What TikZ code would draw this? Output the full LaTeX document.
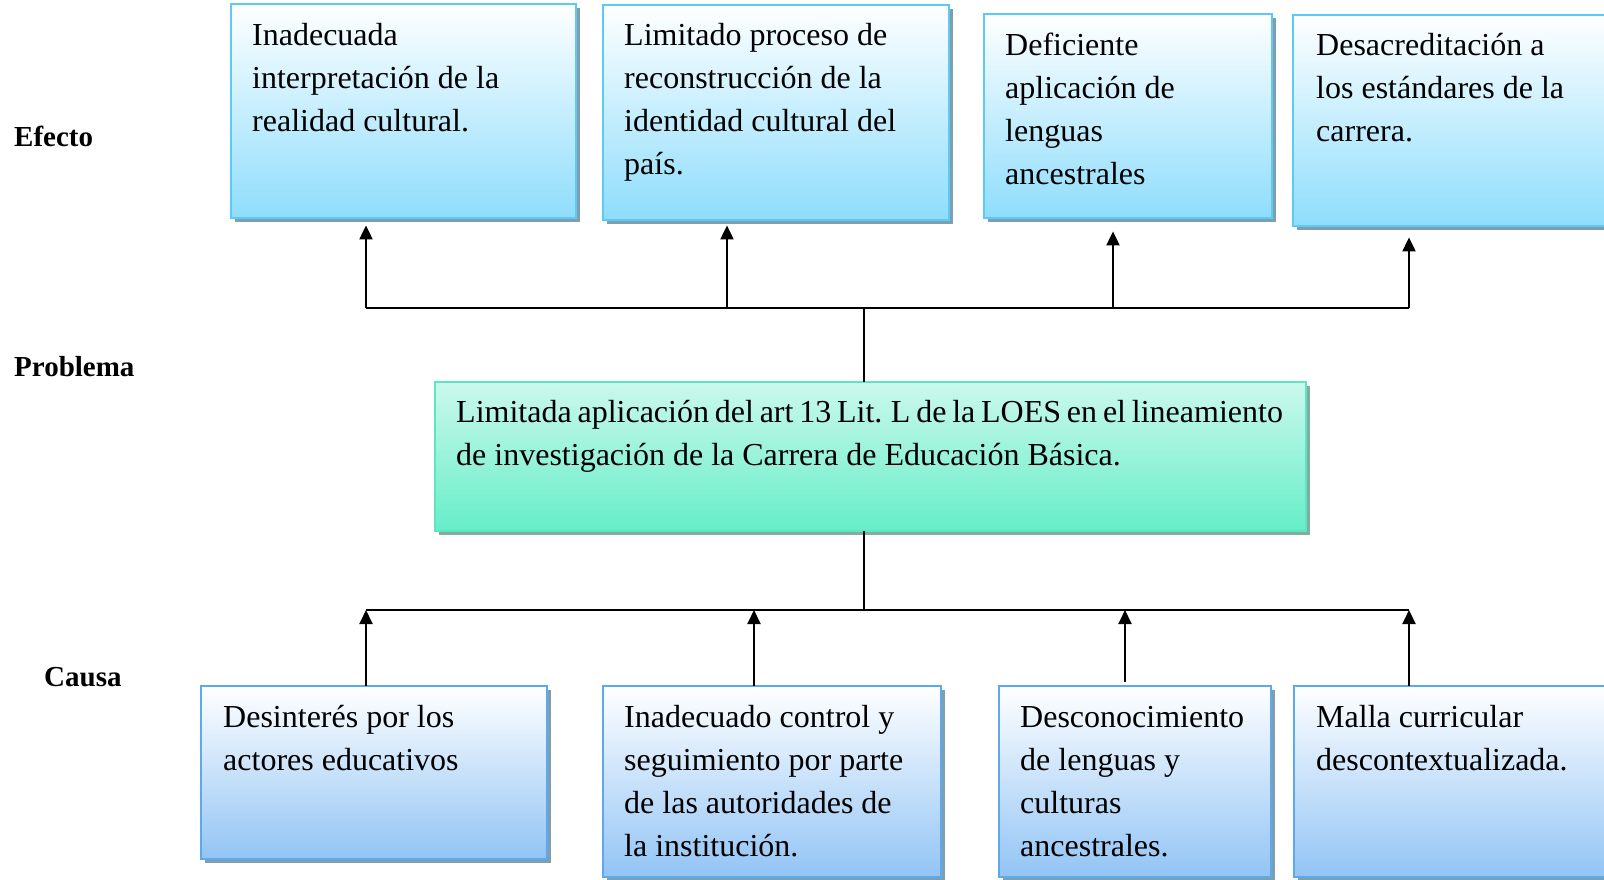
\documentclass[tikz,border=0pt]{standalone}
\usepackage{fontspec}
\setmainfont{Liberation Serif}
\usetikzlibrary{arrows.meta,shadows,calc}
\definecolor{effbot}{HTML}{8EDDFC}
\definecolor{effbord}{HTML}{5BCBF5}
\definecolor{caubot}{HTML}{92C4F5}
\definecolor{caubord}{HTML}{5DA9EE}
\definecolor{mintlt}{HTML}{CBF8EC}
\definecolor{mintdk}{HTML}{66EEC8}
\definecolor{mintbord}{HTML}{5EE6C0}
\definecolor{shblue}{HTML}{7F9FB0}
\definecolor{shmint}{HTML}{7FAEA0}
\tikzset{
  boxbase/.style={draw, line width=1.8pt, inner sep=0pt, rectangle},
  effbox/.style={boxbase, draw=effbord, top color=white, bottom color=effbot,
     general shadow={fill=shblue, shadow xshift=4pt, shadow yshift=-4pt}},
  caubox/.style={boxbase, draw=caubord, top color=white, bottom color=caubot,
     general shadow={fill=shblue, shadow xshift=4pt, shadow yshift=-4pt}},
  probbox/.style={boxbase, draw=mintbord, top color=mintlt, bottom color=mintdk,
     general shadow={fill=shmint, shadow xshift=4pt, shadow yshift=-4pt}},
  txt/.style={anchor=base west, align=left, inner sep=0pt, font=\fontsize{32}{43}\selectfont},
  lbl/.style={anchor=base west, inner sep=0pt, font=\fontsize{29}{34}\selectfont\bfseries},
  conn/.style={line width=1.6pt},
  arr/.style={line width=2pt, -{Triangle[width=13pt,length=14pt]}},
}
\begin{document}
\begin{tikzpicture}[x=1pt,y=-1pt]
\useasboundingbox (0,0) rectangle (1604,879);
\clip (0,0) rectangle (1604,879);
% effect boxes
\path[effbox] (231,4) rectangle (576,218);
\node[minimum width=345pt, minimum height=214pt, anchor=north west, inner sep=0pt] (e1) at (231,4) {};
\path[effbox] (603,5) rectangle (949,220);
\node[minimum width=346pt, minimum height=215pt, anchor=north west, inner sep=0pt] (e2) at (603,5) {};
\path[effbox] (984,14) rectangle (1272,218);
\node[minimum width=288pt, minimum height=204pt, anchor=north west, inner sep=0pt] (e3) at (984,14) {};
\path[effbox] (1293,15) rectangle (1612,226);
\node[minimum width=319pt, minimum height=211pt, anchor=north west, inner sep=0pt] (e4) at (1293,15) {};
% problem box
\path[probbox] (435,382) rectangle (1306,531);
\node[minimum width=871pt, minimum height=149pt, anchor=north west, inner sep=0pt] (p) at (435,382) {};
% cause boxes
\path[caubox] (201,686) rectangle (547,859);
\node[minimum width=346pt, minimum height=173pt, anchor=north west, inner sep=0pt] (c1) at (201,686) {};
\path[caubox] (603,686) rectangle (941,877);
\node[minimum width=338pt, minimum height=191pt, anchor=north west, inner sep=0pt] (c2) at (603,686) {};
\path[caubox] (999,686) rectangle (1271,877);
\node[minimum width=272pt, minimum height=191pt, anchor=north west, inner sep=0pt] (c3) at (999,686) {};
\path[caubox] (1294,686) rectangle (1612,877);
\node[minimum width=318pt, minimum height=191pt, anchor=north west, inner sep=0pt] (c4) at (1294,686) {};
% texts (anchored at the baseline of their last line)
\node[txt] (e1t) at (252,131) {Inadecuada\\interpretación de la\\realidad cultural.};
\node[txt] (e2t) at (624,174) {Limitado proceso de\\reconstrucción de la\\identidad cultural del\\país.};
\node[txt] (e3t) at (1005,184) {Deficiente\\aplicación de\\lenguas\\ancestrales};
\node[txt] (e4t) at (1316,141) {Desacreditación a\\los estándares de la\\carrera.};
\node[txt] (pt) at (456,465) {{\spaceskip=5.8pt Limitada aplicación del art 13 Lit. L de la LOES en el lineamiento}\\de investigación de la Carrera de Educación Básica.};
\node[txt] (c1t) at (223,770) {Desinterés por los\\actores educativos};
\node[txt] (c2t) at (624,856) {Inadecuado control y\\seguimiento por parte\\de las autoridades de\\la institución.};
\node[txt] (c3t) at (1020,856) {Desconocimiento\\de lenguas y\\culturas\\ancestrales.};
\node[txt] (c4t) at (1316,770) {Malla curricular\\descontextualizada.};
% labels
\node[lbl] (lef) at (14,146) {Efecto};
\node[lbl] (lpr) at (14,376) {Problema};
\node[lbl] (lca) at (44,686) {Causa};
% top connectors
\coordinate (tc) at (864,308);
\coordinate (ta1) at (366,308);
\coordinate (ta2) at (727,308);
\coordinate (ta3) at (1113,308);
\coordinate (ta4) at (1409,308);
\draw[conn] (ta1) -- (ta4);
\draw[conn] (tc) -- (tc |- p.north);
\draw[arr, shorten >=7pt] (ta1) -- (ta1 |- e1.south);
\draw[arr, shorten >=5pt] (ta2) -- (ta2 |- e2.south);
\draw[arr, shorten >=13pt] (ta3) -- (ta3 |- e3.south);
\draw[arr, shorten >=11pt] (ta4) -- (ta4 |- e4.south);
% bottom connectors
\coordinate (bc) at (864,610);
\coordinate (ba1) at (366,610);
\coordinate (ba2) at (754,610);
\coordinate (ba3) at (1125,610);
\coordinate (ba4) at (1409,610);
\draw[conn] (ba1) -- (ba4);
\draw[conn] (bc |- p.south) -- (bc);
\draw[arr] (ba1 |- c1.north) -- (ba1);
\draw[arr] (ba2 |- c2.north) -- (ba2);
\draw[arr, shorten <=4pt] (ba3 |- c3.north) -- (ba3);
\draw[arr] (ba4 |- c4.north) -- (ba4);
\end{tikzpicture}
\end{document}
